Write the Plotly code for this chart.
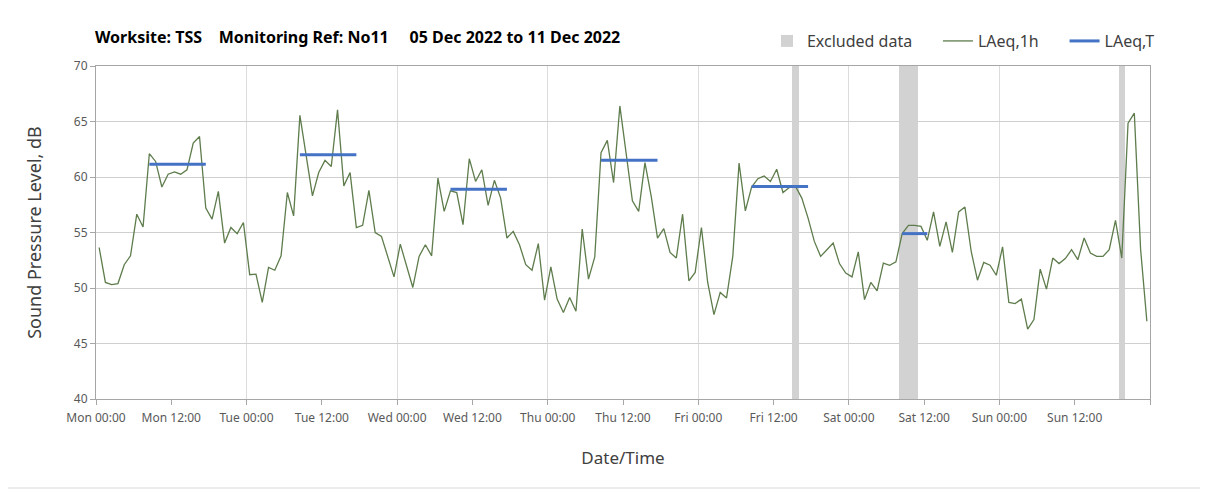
import plotly.graph_objects as go

# hourly LAeq,1h values, Mon 00:00 .. Sun 23:00 (plotted at the middle of each hour)
laeq_1h = [
    # Mon
    53.65, 50.5, 50.3, 50.4, 52.1, 52.9, 56.65, 55.5, 62.1, 61.4, 59.1, 60.25,
    60.45, 60.25, 60.65, 63.05, 63.65, 57.2, 56.2, 58.7, 54.05, 55.45, 54.9, 55.9,
    # Tue
    51.2, 51.25, 48.7, 51.85, 51.6, 52.9, 58.6, 56.5, 65.55, 62.0, 58.3, 60.4,
    61.5, 60.95, 66.05, 59.2, 60.4, 55.45, 55.65, 58.8, 55.0, 54.65, 52.85, 51.0,
    # Wed
    53.95, 52.0, 50.05, 52.85, 53.9, 52.9, 59.9, 56.9, 58.75, 58.6, 55.7, 61.65,
    59.6, 60.65, 57.45, 59.7, 58.1, 54.5, 55.1, 53.9, 52.1, 51.6, 54.0, 48.9,
    # Thu
    51.9, 49.0, 47.8, 49.15, 47.9, 55.3, 50.8, 52.8, 62.2, 63.3, 59.5, 66.4,
    62.0, 57.85, 56.9, 61.3, 58.25, 54.5, 55.35, 53.2, 52.7, 56.65, 50.65, 51.4,
    # Fri
    55.45, 50.5, 47.6, 49.6, 49.1, 52.85, 61.25, 56.95, 59.1, 59.85, 60.1, 59.6,
    60.7, 58.6, 59.05, 59.15, 58.1, 56.3, 54.2, 52.85, 53.45, 54.05, 52.2, 51.35,
    # Sat
    51.0, 53.25, 48.95, 50.5, 49.75, 52.25, 52.05, 52.35, 54.9, 55.65, 55.65, 55.55,
    54.3, 56.85, 53.75, 55.95, 53.2, 56.85, 57.3, 53.3, 50.7, 52.3, 52.05, 51.15,
    # Sun
    53.7, 48.7, 48.6, 49.0, 46.3, 47.15, 51.7, 49.9, 52.7, 52.2, 52.65, 53.45,
    52.55, 54.5, 53.15, 52.85, 52.85, 53.45, 56.1, 52.7, 64.85, 65.75, 53.5, 47.0,
]
hours = [h + 0.5 for h in range(len(laeq_1h))]

# daytime LAeq,T periods (hours from Mon 00:00)
laeqt_start = [8.5, 32.5, 56.5, 80.5, 104.5, 128.5]
laeqt_end = [17.5, 41.5, 65.5, 89.5, 113.5, 132.5]
laeqt_val = [61.15, 62.0, 58.9, 61.5, 59.15, 54.9]

# excluded periods (hours from Mon 00:00)
excl_start = [111, 128, 163]
excl_end = [112, 131, 164]

tick_hours = list(range(0, 169, 12))
tick_labels = ["Mon 00:00", "Mon 12:00", "Tue 00:00", "Tue 12:00", "Wed 00:00",
               "Wed 12:00", "Thu 00:00", "Thu 12:00", "Fri 00:00", "Fri 12:00",
               "Sat 00:00", "Sat 12:00", "Sun 00:00", "Sun 12:00", ""]

y_min, y_max = 40, 70
nb = "\u00a0"

fig = go.Figure()

fig.add_trace(go.Bar(
    x=[(a + b) / 2 for a, b in zip(excl_start, excl_end)],
    y=[y_max - y_min] * len(excl_start),
    base=y_min,
    width=[b - a for a, b in zip(excl_start, excl_end)],
    marker=dict(color="#d2d2d2", line_width=0),
    name="Excluded data" + nb * 5,
    hoverinfo="skip",
))

fig.add_trace(go.Scatter(
    x=hours, y=laeq_1h, mode="lines",
    line=dict(color="#5e7c4c", width=1.3),
    name="LAeq,1h" + nb * 5,
))

bx, by = [], []
for s, e, v in zip(laeqt_start, laeqt_end, laeqt_val):
    bx += [s, e, None]
    by += [v, v, None]
fig.add_trace(go.Scatter(
    x=bx, y=by, mode="lines",
    line=dict(color="#4472c4", width=3),
    name="LAeq,T",
))

title = "Worksite: TSS" + nb * 4 + "Monitoring Ref: No11" + nb * 5 + "05 Dec 2022 to 11 Dec 2022"

fig.update_layout(
    width=1208, height=492,
    margin=dict(l=88, r=66, t=58, b=101),
    paper_bgcolor="white", plot_bgcolor="white",
    font=dict(family="Noto Sans", color="#404040"),
    bargap=0,
    title=dict(text="<b>" + title + "</b>", x=0.072, xref="container", xanchor="left",
               y=1 - 29 / 492, yref="container", yanchor="middle",
               font=dict(size=16, color="#000000")),
    legend=dict(orientation="h", x=0.6366, xanchor="left", y=1.075, yanchor="middle",
                font=dict(size=16, color="#404040"), bgcolor="rgba(0,0,0,0)",
                traceorder="normal"),
    xaxis=dict(
        range=[0, 168], tickmode="array", tickvals=tick_hours, ticktext=tick_labels,
        showgrid=False, zeroline=False,
        showline=True, linecolor="#a6a6a6", mirror=True,
        ticks="outside", ticklen=5, tickcolor="#a6a6a6", ticklabelstandoff=3,
        tickfont=dict(size=12, color="#595959"),
        minor=dict(tickmode="linear", tick0=0, dtick=24, showgrid=True,
                   gridcolor="#dcdcdc", gridwidth=1, ticks=""),
        title=dict(text="Date/Time", font=dict(size=17, color="#404040"), standoff=26),
        automargin=False,
    ),
    yaxis=dict(
        range=[y_min, y_max], dtick=5, showgrid=True, gridcolor="#cfcfcf",
        zeroline=False, showline=True, linecolor="#a6a6a6", mirror=True,
        ticks="outside", ticklen=5, tickcolor="#a6a6a6",
        tickfont=dict(size=12, color="#595959"),
        title=dict(text="Sound Pressure Level, dB", font=dict(size=18, color="#404040"),
                   standoff=27),
        automargin=False,
    ),
    shapes=[dict(type="rect", xref="paper", yref="paper",
                 x0=-0.0863, x1=1.0503, y0=-0.2673, y1=1.1832,
                 line=dict(color="#d9d9d9", width=1), fillcolor="rgba(0,0,0,0)",
                 layer="below")],
)

fig.write_html("out.html")
